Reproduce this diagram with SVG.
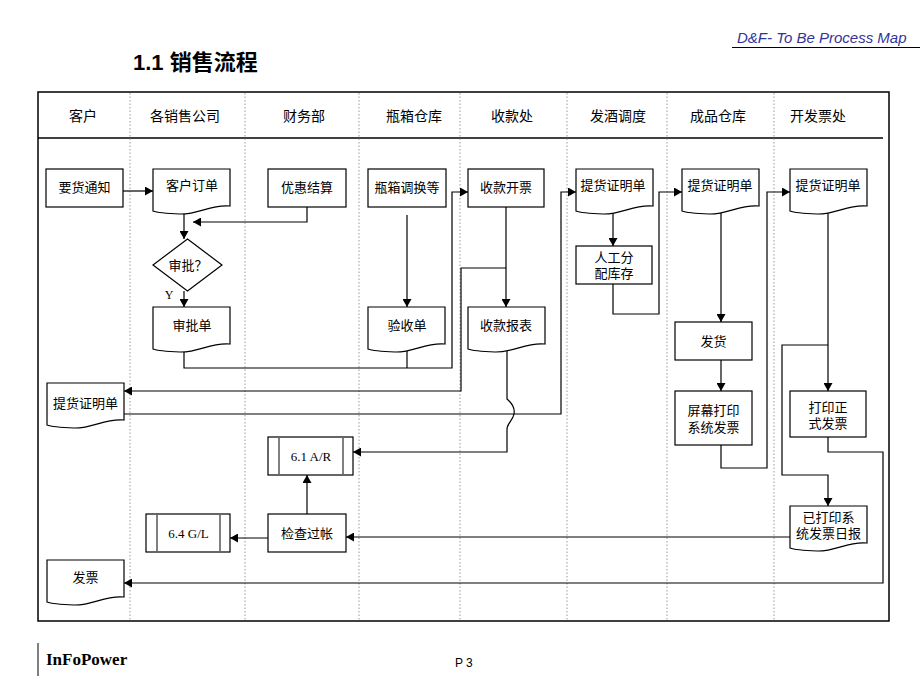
<svg xmlns="http://www.w3.org/2000/svg" xmlns:xlink="http://www.w3.org/1999/xlink" width="920" height="690" viewBox="0 0 920 690">
<style>
.t{font-family:"Liberation Sans","Noto Sans CJK SC",sans-serif;font-size:13px;fill:#000;text-anchor:middle}
.h{font-family:"Liberation Sans","Noto Sans CJK SC",sans-serif;font-size:14px;fill:#000;text-anchor:middle}
.s{font-family:"Liberation Serif","Noto Sans CJK SC",serif;font-size:13px;fill:#000;text-anchor:middle}
.box{fill:#fff;stroke:#000;stroke-width:1.2}
.lane{stroke:#999;stroke-width:1;stroke-dasharray:1.5,2}
.c{fill:none;stroke:#000;stroke-width:1.2}
.a{marker-end:url(#arr)}
.bar{stroke:#808080;stroke-width:2}
</style>
<defs>
<marker id="arr" markerWidth="9" markerHeight="9" refX="8" refY="4.5" orient="auto" markerUnits="userSpaceOnUse">
<path d="M0,0 L8,4.5 L0,9 Z" fill="#000"/>
</marker>
<path id="doc" d="M0,0 H77 V37 C58,35 46,45.5 27,45 C14,44.5 5,44 0,42 Z"/>
</defs>

<!-- header texts -->
<text x="737" y="43" style="font-family:'Liberation Sans',sans-serif;font-size:15px;font-style:italic;fill:#333399">D&amp;F- To Be Process Map</text>
<line x1="732" y1="47.5" x2="920" y2="47.5" stroke="#000" stroke-width="1.2"/>
<text x="133" y="70" style="font-family:'Liberation Sans','Noto Sans CJK SC',sans-serif;font-size:22px;font-weight:bold;fill:#000">1.1 销售流程</text>

<!-- frame -->
<rect x="38" y="92" width="851" height="529" fill="#fff" stroke="#000" stroke-width="1.5"/>
<line x1="38" y1="138" x2="883" y2="138" stroke="#000" stroke-width="1.5"/>
<g id="lanes">
<line class="lane" x1="130" y1="93" x2="130" y2="620"/>
<line class="lane" x1="245" y1="93" x2="245" y2="620"/>
<line class="lane" x1="359" y1="93" x2="359" y2="620"/>
<line class="lane" x1="460" y1="93" x2="460" y2="620"/>
<line class="lane" x1="567" y1="93" x2="567" y2="620"/>
<line class="lane" x1="667" y1="93" x2="667" y2="620"/>
<line class="lane" x1="774" y1="93" x2="774" y2="620"/>
</g>
<g id="lane-headers">
<text class="h" x="83" y="121">客户</text>
<text class="h" x="185" y="121">各销售公司</text>
<text class="h" x="304" y="121">财务部</text>
<text class="h" x="414" y="121">瓶箱仓库</text>
<text class="h" x="512" y="121">收款处</text>
<text class="h" x="618" y="121">发酒调度</text>
<text class="h" x="718" y="121">成品仓库</text>
<text class="h" x="818" y="121">开发票处</text>
</g>

<!-- connectors -->
<g id="connectors">
<path class="c a" d="M123,191 H153"/>
<path class="c a" d="M307,207 V222 H193"/>
<path class="c a" d="M184,213 V239"/>
<path class="c a" d="M184,291 V307"/>
<path class="c a" d="M184,349 V368 H452 V192 H468"/>
<path class="c" d="M407,351 V368"/>
<path class="c a" d="M407,215 V307"/>
<path class="c a" d="M506,207 V307"/>
<path class="c a" d="M506,268 H461 V391 H124"/>
<path class="c a" d="M507,350 V399 C513,404 515,409 514,414 C513,420 507,424 507,429 V452 H353"/>
<path class="c a" d="M124,414 H561 V192 H576"/>
<path class="c a" d="M613,213 V246"/>
<path class="c a" d="M613,284 V314 H659 V192 H682"/>
<path class="c a" d="M721,213 V322"/>
<path class="c a" d="M721,360 V391"/>
<path class="c a" d="M721,445 V468 H767 V192 H790"/>
<path class="c a" d="M828,213 V391"/>
<path class="c a" d="M828,345 H782 V475 H828 V506"/>
<path class="c a" d="M828,437 V452 H883 V583 H124"/>
<path class="c a" d="M790,537 H346"/>
<path class="c a" d="M268,538 H230"/>
<path class="c a" d="M307,514 V475"/>
</g>
<text class="s" x="169" y="299" style="font-size:12px">Y</text>

<!-- nodes -->
<g id="n-yaohuo"><rect class="box" x="46" y="169" width="77" height="38"/><text class="t" x="84.5" y="192">要货通知</text></g>
<g id="n-tihuo-kh"><use href="#doc" class="box" x="47" y="383"/><text class="t" x="85.5" y="408">提货证明单</text></g>
<g id="n-fapiao"><use href="#doc" class="box" x="47" y="560"/><text class="t" x="85.5" y="582">发票</text></g>

<g id="n-dingdan"><use href="#doc" class="box" x="153" y="169"/><text class="t" x="192" y="190">客户订单</text></g>
<g id="n-shenpi"><polygon class="box" points="187.5,239 222,265 187.5,291 153,265"/><text class="t" x="188" y="270">审批？</text></g>
<g id="n-shenpidan"><use href="#doc" class="box" x="153" y="307"/><text class="t" x="192" y="330">审批单</text></g>
<g id="n-gl"><rect class="box" x="146" y="514" width="84" height="38"/><line class="bar" x1="157" y1="515" x2="157" y2="551"/><line class="bar" x1="220" y1="515" x2="220" y2="551"/><text class="s" x="188.5" y="538">6.4 G/L</text></g>

<g id="n-youhui"><rect class="box" x="268" y="169" width="78" height="38"/><text class="t" x="307" y="192">优惠结算</text></g>
<g id="n-ar"><rect class="box" x="268" y="437" width="85" height="38"/><line class="bar" x1="279" y1="438" x2="279" y2="474"/><line class="bar" x1="343" y1="438" x2="343" y2="474"/><text class="s" x="311" y="461">6.1 A/R</text></g>
<g id="n-jiancha"><rect class="box" x="268" y="514" width="78" height="38"/><text class="t" x="307" y="538">检查过帐</text></g>

<g id="n-pingxiang"><rect class="box" x="368" y="169" width="78" height="38"/><text class="t" x="407" y="192">瓶箱调换等</text></g>
<g id="n-yanshou"><use href="#doc" class="box" x="368" y="307"/><text class="t" x="407" y="330">验收单</text></g>

<g id="n-shoukuan"><rect class="box" x="468" y="169" width="76" height="38"/><text class="t" x="506" y="192">收款开票</text></g>
<g id="n-baobiao"><use href="#doc" class="box" x="468" y="307"/><text class="t" x="506" y="330">收款报表</text></g>

<g id="n-tihuo-fj"><use href="#doc" class="box" x="576" y="169"/><text class="t" x="613" y="190">提货证明单</text></g>
<g id="n-rengong"><rect class="box" x="576" y="246" width="76" height="38"/><text class="t" x="614" y="262">人工分</text><text class="t" x="614" y="278">配库存</text></g>

<g id="n-tihuo-cp"><use href="#doc" class="box" x="682" y="169"/><text class="t" x="720" y="190">提货证明单</text></g>
<g id="n-fahuo"><rect class="box" x="675" y="322" width="77" height="38"/><text class="t" x="713.5" y="346">发货</text></g>
<g id="n-pingmu"><rect class="box" x="675" y="391" width="77" height="54"/><text class="t" x="713.5" y="415">屏幕打印</text><text class="t" x="713.5" y="432">系统发票</text></g>

<g id="n-tihuo-kp"><use href="#doc" class="box" x="790" y="169"/><text class="t" x="828" y="190">提货证明单</text></g>
<g id="n-dayin"><rect class="box" x="790" y="391" width="76" height="46"/><text class="t" x="828" y="412">打印正</text><text class="t" x="828" y="428">式发票</text></g>
<g id="n-ribao"><use href="#doc" class="box" x="790" y="506"/><text class="t" x="828.5" y="522">已打印系</text><text class="t" x="828.5" y="538">统发票日报</text></g>

<!-- footer -->
<line x1="38" y1="643" x2="38" y2="676" stroke="#000" stroke-width="1"/>
<text x="46" y="665" style="font-family:'Liberation Serif',serif;font-size:17px;font-weight:bold;fill:#000">InFoPower</text>
<text x="455" y="667" style="font-family:'Liberation Sans',sans-serif;font-size:12px;fill:#000">P 3</text>
</svg>
